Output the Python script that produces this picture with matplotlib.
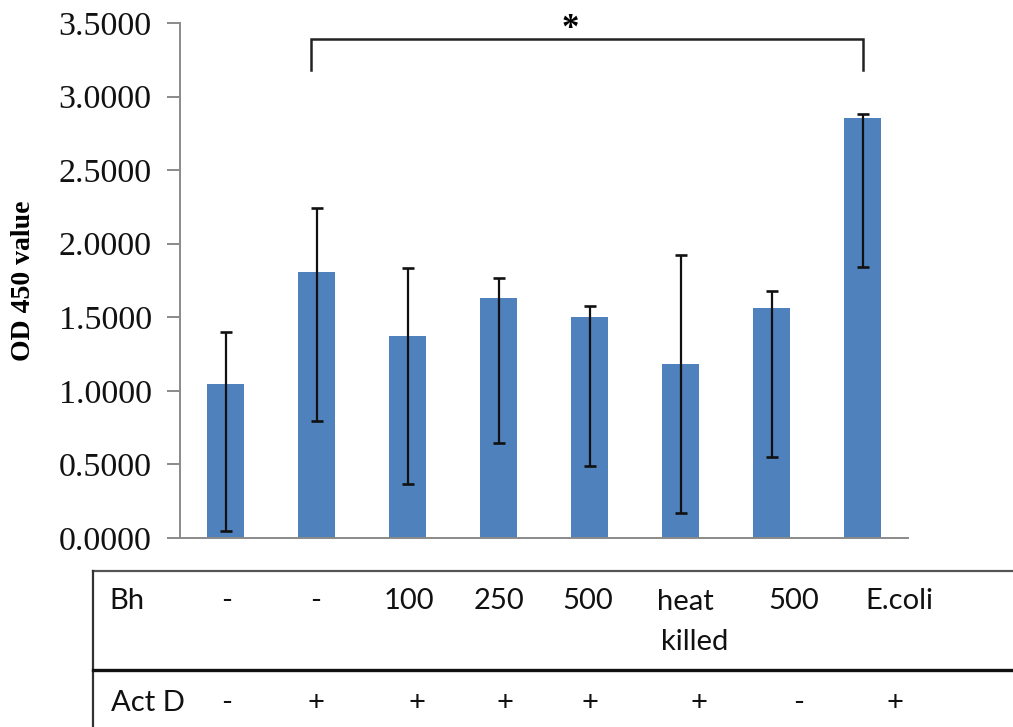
import matplotlib
matplotlib.use("Agg")
import matplotlib.pyplot as plt
from matplotlib.lines import Line2D

# ---- data ----
means = [1.045, 1.806, 1.375, 1.634, 1.500, 1.183, 1.561, 2.853]
err_minus = [1.00, 1.01, 1.01, 0.99, 1.01, 1.01, 1.01, 1.01]
err_plus = [0.355, 0.439, 0.463, 0.131, 0.079, 0.743, 0.120, 0.027]
yticks = [0.0, 0.5, 1.0, 1.5, 2.0, 2.5, 3.0, 3.5]
bh_labels = ["-", "-", "100", "250", "500", "heat\nkilled", "500", "E.coli"]
actd_labels = ["-", "+", "+", "+", "+", "+", "-", "+"]
row_names = ["Bh", "Act D"]
sig_text = "*"
bracket_ends = [0.94, 7.0]
bracket_levels = [3.39, 3.18]

W, H = 1013, 727
fig = plt.figure(figsize=(W / 100, H / 100), dpi=100)

def fx(px):
    return px / W

def fy(py):
    return 1 - py / H

ax = fig.add_axes([fx(180), fy(538), (908 - 180) / W, (538 - 23) / H])
x = list(range(len(means)))
ax.bar(x, means, width=0.41, color="#4F81BD", zorder=2)
ax.errorbar(x, means, yerr=[err_minus, err_plus], fmt="none", ecolor="#111111",
            elinewidth=1.6, capsize=4.3, capthick=1.9, zorder=3)

ax.set_xlim(-0.5, len(means) - 0.5)
ax.set_ylim(0, 3.5)
ax.set_yticks(yticks)
ax.set_yticklabels([f"{v:.4f}" for v in yticks], fontfamily="Liberation Serif",
                   fontsize=24.5, color="#111111")
ax.set_xticks([])
for s in ["top", "right"]:
    ax.spines[s].set_visible(False)
for s in ["left", "bottom"]:
    ax.spines[s].set_color("#8a8a8a")
    ax.spines[s].set_linewidth(1.4)
ax.tick_params(axis="y", direction="out", length=9.4, width=1.4, color="#8a8a8a", pad=11)

# significance bracket
bx0, bx1 = bracket_ends
top, bot = bracket_levels
ax.plot([bx0, bx0, bx1, bx1], [bot, top, top, bot], color="#222222", lw=1.8,
        clip_on=False, solid_joinstyle="miter")
ax.text(3.79, 3.40, sig_text, ha="center", va="baseline", fontsize=25,
        fontweight="bold", fontfamily="Liberation Serif", clip_on=False)

# y label
fig.text(fx(23), fy(281), "OD 450 value", rotation=90, ha="center", va="center",
         fontfamily="Liberation Serif", fontweight="bold", fontsize=20)

# table lines
fig.add_artist(Line2D([fx(93), fx(1013)], [fy(571), fy(571)], color="#555555", lw=1.6))
fig.add_artist(Line2D([fx(93), fx(93)], [fy(571), fy(727)], color="#333333", lw=1.6))
fig.add_artist(Line2D([fx(93), fx(1013)], [fy(670), fy(670)], color="#111111", lw=2.4))

tfont = dict(fontfamily=["Lato", "DejaVu Sans"], fontsize=21, color="#111111")
bh_x = [227, 316, 409, 499, 588, 657, 794, 899]
actd_x = [227, 316, 417, 505, 590, 699, 799, 895]

fig.text(fx(109), fy(601), row_names[0], ha="left", va="center", **tfont)
fig.text(fx(111), fy(703), row_names[1], ha="left", va="center", **tfont)
for lab, px in zip(bh_labels, bh_x):
    lines = lab.split("\n")
    if len(lines) > 1:
        for i, ln in enumerate(lines):
            fig.text(fx(px + 4 * i), fy(602 + 40 * i), ln, ha="left", va="center", **tfont)
    else:
        fig.text(fx(px), fy(601), lab, ha="center", va="center", **tfont)
for lab, px in zip(actd_labels, actd_x):
    fig.text(fx(px), fy(703), lab, ha="center", va="center", **tfont)

fig.savefig("out.png", dpi=100)
